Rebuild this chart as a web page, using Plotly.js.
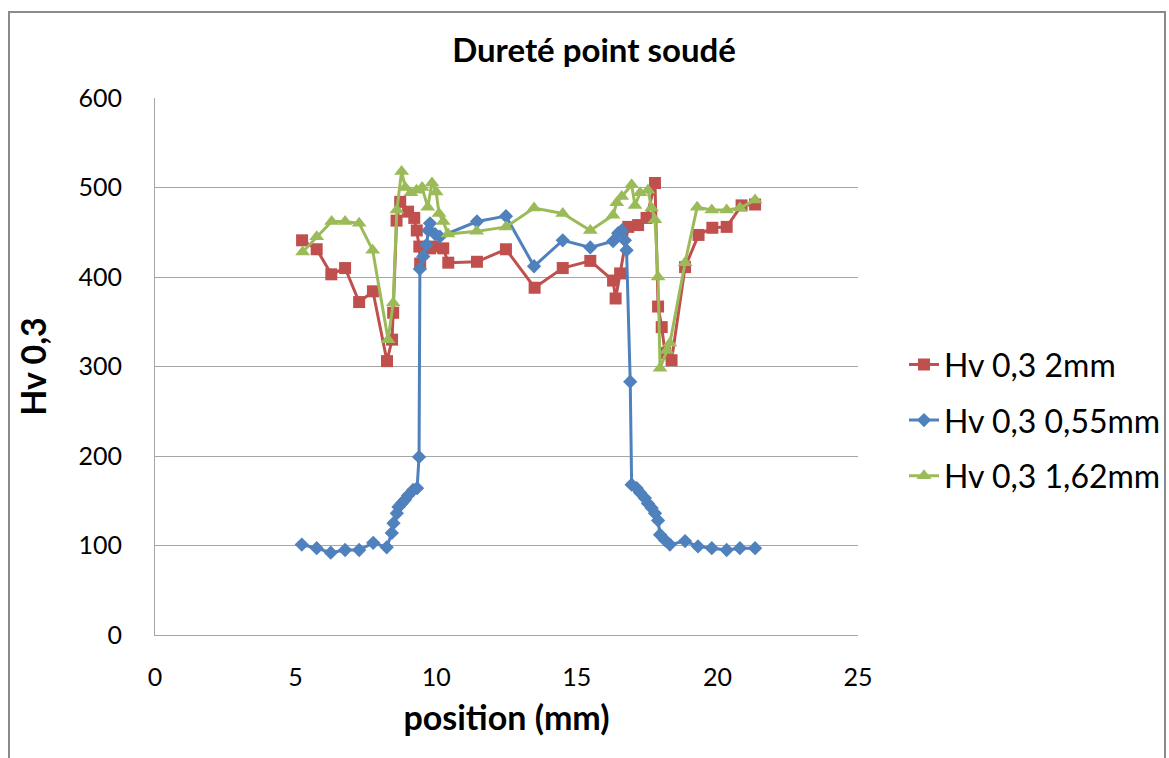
<!DOCTYPE html>
<html>
<head>
<meta charset="utf-8">
<script src="https://cdn.plot.ly/plotly-3.0.1.min.js"></script>
<style>
  html, body { margin: 0; padding: 0; background: #fff; overflow: hidden; }
  #wrap { position: relative; width: 1169px; height: 758px; overflow: hidden; }
  #chart { position: absolute; left: 0; top: 0; width: 1200px; height: 758px; }
  #frame { position: absolute; left: 8px; top: 11px; width: 1158px; height: 760px;
           border-left: 2px solid #8a8a8a; border-top: 2px solid #8a8a8a; border-right: 2px solid #8a8a8a;
           pointer-events: none; box-sizing: border-box; }
</style>
</head>
<body>
<div id="wrap">
  <div id="chart"></div>
  <div id="frame"></div>
</div>
<script>
// Series "Hv 0,3 2mm"
const redX = [5.23, 5.75, 6.27, 6.76, 7.26, 7.75, 8.25, 8.43, 8.47, 8.59, 8.72, 9.0, 9.22, 9.31, 9.4, 9.43, 9.78, 9.9, 10.25, 10.43, 11.45, 12.48, 13.5, 14.5, 15.48, 16.29, 16.38, 16.54, 16.83, 17.18, 17.48, 17.78, 17.89, 18.02, 18.14, 18.37, 18.85, 19.33, 19.82, 20.33, 20.86, 21.34];
const redY = [441, 431, 403, 410, 372, 384, 306, 330, 360, 463, 484, 473, 466, 452, 434, 415, 432, 434, 432, 416, 417, 431, 388, 410, 418, 396, 376, 404, 456, 458, 466, 505, 367, 344, 315, 307, 411, 447, 455, 456, 480, 481];

// Series "Hv 0,3 0,55mm"
const blueX = [5.22, 5.75, 6.25, 6.76, 7.26, 7.76, 8.24, 8.42, 8.48, 8.6, 8.66, 8.77, 8.89, 9.0, 9.18, 9.32, 9.39, 9.42, 9.54, 9.66, 9.72, 9.78, 9.96, 10.13, 11.45, 12.48, 13.48, 14.5, 15.48, 16.29, 16.47, 16.6, 16.71, 16.77, 16.9, 16.95, 17.13, 17.25, 17.42, 17.53, 17.66, 17.78, 17.89, 17.96, 18.14, 18.31, 18.85, 19.31, 19.8, 20.33, 20.8, 21.34];
const blueY = [101, 97, 92, 95, 95, 103, 98, 114, 125, 136, 143, 147, 151, 156, 162, 164, 199, 409, 423, 436, 452, 460, 448, 445, 462, 468, 412, 441, 433, 440, 449, 452, 441, 430, 283, 168, 164, 159, 153, 147, 142, 136, 128, 112, 106, 101, 105, 99, 97, 95, 97, 97];

// Series "Hv 0,3 1,62mm"
const greenX = [5.25, 5.75, 6.28, 6.76, 7.26, 7.74, 8.29, 8.47, 8.6, 8.77, 8.9, 9.1, 9.3, 9.5, 9.7, 9.85, 10.0, 10.1, 10.25, 10.42, 11.44, 12.48, 13.48, 14.5, 15.48, 16.29, 16.42, 16.6, 16.95, 17.07, 17.25, 17.53, 17.66, 17.78, 17.89, 17.96, 18.2, 18.31, 18.85, 19.28, 19.8, 20.33, 20.8, 21.34];
const greenY = [428, 445, 462, 462, 460, 430, 330, 371, 475, 518, 500, 494, 497, 500, 478, 505, 495, 471, 462, 448, 451, 456, 477, 471, 452, 469, 483, 490, 503, 480, 494, 497, 477, 464, 400, 298, 318, 326, 416, 478, 475, 475, 477, 486];

const seriesNames = ["Hv 0,3 2mm", "Hv 0,3 0,55mm", "Hv 0,3 1,62mm"];
const xTicks = [0, 5, 10, 15, 20, 25];
const yTicks = [0, 100, 200, 300, 400, 500, 600];

const FONT = "Lato, 'Open Sans', 'DejaVu Sans', sans-serif";

const traces = [
  { x: redX, y: redY, name: seriesNames[0], type: 'scatter', mode: 'lines+markers',
    line: { color: '#C0504D', width: 3 }, marker: { symbol: 'square', size: 12, color: '#C0504D' },
    legendgroup: 'a' },
  { x: blueX, y: blueY, name: seriesNames[1], type: 'scatter', mode: 'lines+markers',
    line: { color: '#4F81BD', width: 3 }, marker: { symbol: 'diamond', size: 11, color: '#4F81BD' },
    legendgroup: 'b' },
  { x: greenX, y: greenY, name: seriesNames[2], type: 'scatter', mode: 'lines+markers',
    line: { color: '#9BBB59', width: 3 }, marker: { symbol: 'triangle-up', size: 13, color: '#9BBB59' },
    legendgroup: 'c' }
];

const layout = {
  width: 1200, height: 758,
  margin: { l: 155, r: 342, t: 98, b: 123 },
  paper_bgcolor: '#ffffff', plot_bgcolor: '#ffffff',
  font: { family: FONT, color: '#000' },
  title: { text: '<b>Dureté point soudé</b>', font: { family: FONT, size: 33, color: '#000' },
           x: 594 / 1200, xanchor: 'center', y: 0.933, yanchor: 'middle' },
  xaxis: {
    range: [0, 25], tickvals: xTicks, ticktext: xTicks.map(String),
    showgrid: false, zeroline: false, showline: true, linecolor: '#a6a6a6', linewidth: 1,
    ticks: '', ticklabelstandoff: 20,
    tickfont: { family: FONT, size: 25, color: '#000' },
    title: { text: '<b>position (mm)</b>', font: { family: FONT, size: 34, color: '#000' }, standoff: 16 }
  },
  yaxis: {
    range: [0, 600], tickvals: yTicks, ticktext: yTicks.map(String),
    showgrid: true, gridcolor: '#a6a6a6', gridwidth: 1, zeroline: false,
    showline: true, linecolor: '#a6a6a6', linewidth: 1,
    ticks: '', ticklabelstandoff: 27,
    tickfont: { family: FONT, size: 25, color: '#000' },
    title: { text: '<b>Hv 0,3</b>', font: { family: FONT, size: 34, color: '#000' }, standoff: 21 }
  },
  legend: {
    x: (904 - 155) / 703, xanchor: 'left', y: 0.40, yanchor: 'middle',
    font: { family: FONT, size: 32, color: '#000' },
    traceorder: 'grouped', tracegroupgap: 11, itemwidth: 30,
    bgcolor: 'rgba(0,0,0,0)'
  },
  showlegend: true
};

Plotly.newPlot('chart', traces, layout, { displayModeBar: false, staticPlot: true });
</script>
</body>
</html>
